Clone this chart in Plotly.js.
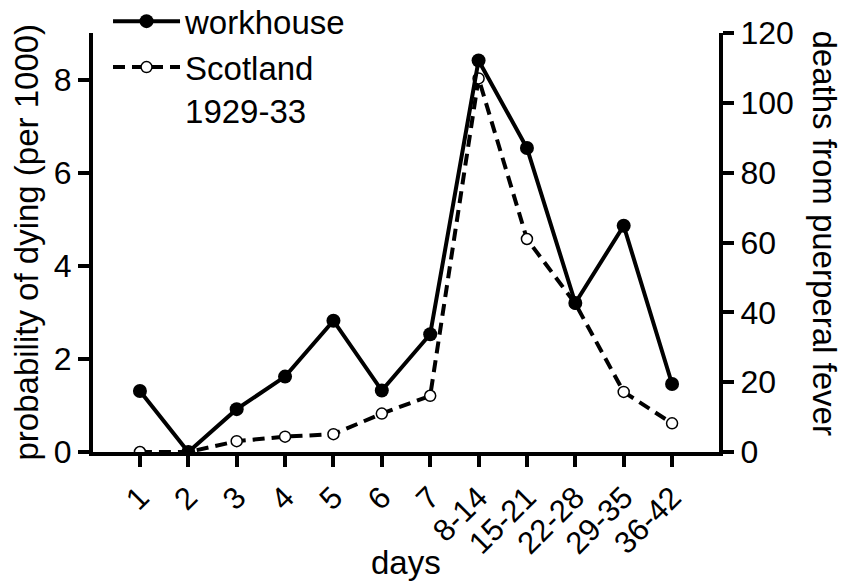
<!DOCTYPE html>
<html>
<head>
<meta charset="utf-8">
<script src="https://cdn.plot.ly/plotly-3.0.1.min.js"></script>
<style>html,body{margin:0;padding:0;background:#fff;}#chart{width:846px;height:585px;}</style>
</head>
<body>
<div id="chart"></div>
<script>
const days = ['1','2','3','4','5','6','7','8-14','15-21','22-28','29-35','36-42'];
const workhouse = [1.31, 0, 0.92, 1.62, 2.82, 1.32, 2.53, 8.41, 6.53, 3.2, 4.86, 1.46];
const scotland = [0, 0, 3.1, 4.4, 5.1, 11.0, 16.1, 107, 61, 42.5, 17.2, 8.2];
const leftTicks = [0, 2, 4, 6, 8];
const rightTicks = [0, 20, 40, 60, 80, 100, 120];

const FONT = 'Liberation Sans, Arial, sans-serif';

const traces = [
  {
    x: days, y: workhouse, name: 'workhouse', type: 'scatter', mode: 'lines+markers',
    yaxis: 'y2',
    line: {color: '#000', width: 4},
    marker: {color: '#000', size: 14, symbol: 'circle'}
  },
  {
    x: days, y: scotland, name: 'Scotland<br>1929-33', type: 'scatter', mode: 'lines+markers',
    yaxis: 'y',
    line: {color: '#000', width: 4, dash: '12px,7px'},
    marker: {color: '#fff', size: 11, symbol: 'circle', line: {color: '#000', width: 1.5}}
  }
];

const layout = {
  width: 846, height: 585,
  margin: {l: 93, r: 127, t: 33, b: 133, autoexpand: false},
  paper_bgcolor: '#fff', plot_bgcolor: '#fff',
  font: {family: FONT, size: 30, color: '#000'},
  showlegend: true,
  legend: {
    x: 0.024, y: 1.095, xanchor: 'left', yanchor: 'top', valign: 'top',
    font: {family: FONT, size: 33, color: '#000'},
    bgcolor: 'rgba(0,0,0,0)', itemwidth: 67, tracegroupgap: 0
  },
  xaxis: {
    type: 'category', range: [-0.97, 11.97],
    showgrid: false, zeroline: false,
    showline: true, linecolor: '#000', linewidth: 4,
    ticks: 'outside', ticklen: 11, tickwidth: 4, tickcolor: '#000',
    tickangle: -45, tickfont: {family: FONT, size: 31}
  },
  yaxis: {
    side: 'right', range: [0, 120],
    tickvals: rightTicks, ticktext: rightTicks.map(String),
    showgrid: false, zeroline: false,
    showline: true, linecolor: '#000', linewidth: 4,
    ticks: 'outside', ticklen: 11, tickwidth: 4, tickcolor: '#000',
    tickfont: {family: FONT, size: 32}
  },
  yaxis2: {
    side: 'left', overlaying: 'y', range: [0, 9],
    tickvals: leftTicks, ticktext: leftTicks.map(String),
    showgrid: false, zeroline: false,
    showline: true, linecolor: '#000', linewidth: 4,
    ticks: 'outside', ticklen: 11, tickwidth: 4, tickcolor: '#000',
    tickfont: {family: FONT, size: 32}
  },
  annotations: [
    {
      text: 'probability of dying (per 1000)', textangle: -90,
      xref: 'paper', yref: 'paper', x: 0, y: 0.5,
      xanchor: 'center', yanchor: 'middle', xshift: -67, showarrow: false,
      font: {family: FONT, size: 33, color: '#000'}
    },
    {
      text: 'deaths from puerperal fever', textangle: 90,
      xref: 'paper', yref: 'paper', x: 1, y: 0.5,
      xanchor: 'center', yanchor: 'middle', xshift: 105, yshift: 10, showarrow: false,
      font: {family: FONT, size: 33, color: '#000'}
    },
    {
      text: 'days',
      xref: 'paper', yref: 'paper', x: 0.5, y: 0,
      xanchor: 'center', yanchor: 'middle', yshift: -110, showarrow: false,
      font: {family: FONT, size: 33, color: '#000'}
    }
  ]
};

Plotly.newPlot('chart', traces, layout, {displayModeBar: false, staticPlot: true});
</script>
</body>
</html>
